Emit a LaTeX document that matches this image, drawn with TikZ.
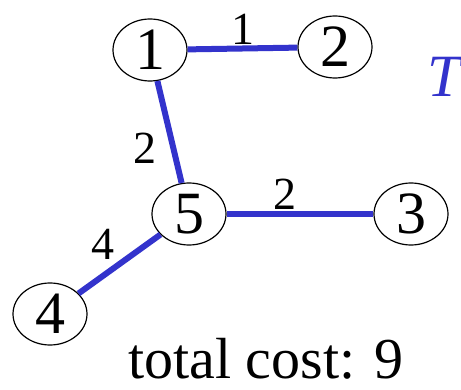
\documentclass[tikz,border=0pt]{standalone}
\usepackage{fontspec}
\newfontfamily\timesfont{Liberation Serif}
\usetikzlibrary{shapes.geometric, positioning}
\definecolor{treeblue}{RGB}{51,51,204}

\begin{document}
\begin{tikzpicture}[
    x=1pt, y=-1pt,
    vertex/.style={ellipse, draw=black, line width=1.2pt, inner sep=0pt, minimum width=74pt, minimum height=62pt, font=\timesfont\fontsize{60}{60}\selectfont},
    treeedge/.style={draw=treeblue, line width=6pt},
    weight/.style={inner sep=1pt, font=\timesfont\fontsize{46}{46}\selectfont}
]
    \useasboundingbox (0,0) rectangle (461,390);

    \node[vertex] (v1) at (150,50) {1};
    \node[vertex] (v2) at (335,47) {2};
    \node[vertex] (v5) at (189,214) {5};
    \node[vertex] (v3) at (411,214) {3};
    \node[vertex] (v4) at (50,314) {4};

    \draw[treeedge] (v1) -- node[weight, above] (w12) {1} (v2);
    \draw[treeedge] (v1) -- node[weight, left=13pt, pos=0.66] (w15) {2} (v5);
    \draw[treeedge] (v5) -- node[weight, above, pos=0.4] (w53) {2} (v3);
    \draw[treeedge] (v4) -- node[weight, above left=1pt, pos=0.5] (w45) {4} (v5);

    \node[text=treeblue, inner sep=0pt, font=\timesfont\fontsize{60}{60}\selectfont\itshape] (tree) at (444,77) {T};
    \node[anchor=base west, inner sep=0pt, font=\timesfont\fontsize{58}{58}\selectfont] (cost) at (128,378) {total cost: 9};
\end{tikzpicture}
\end{document}
